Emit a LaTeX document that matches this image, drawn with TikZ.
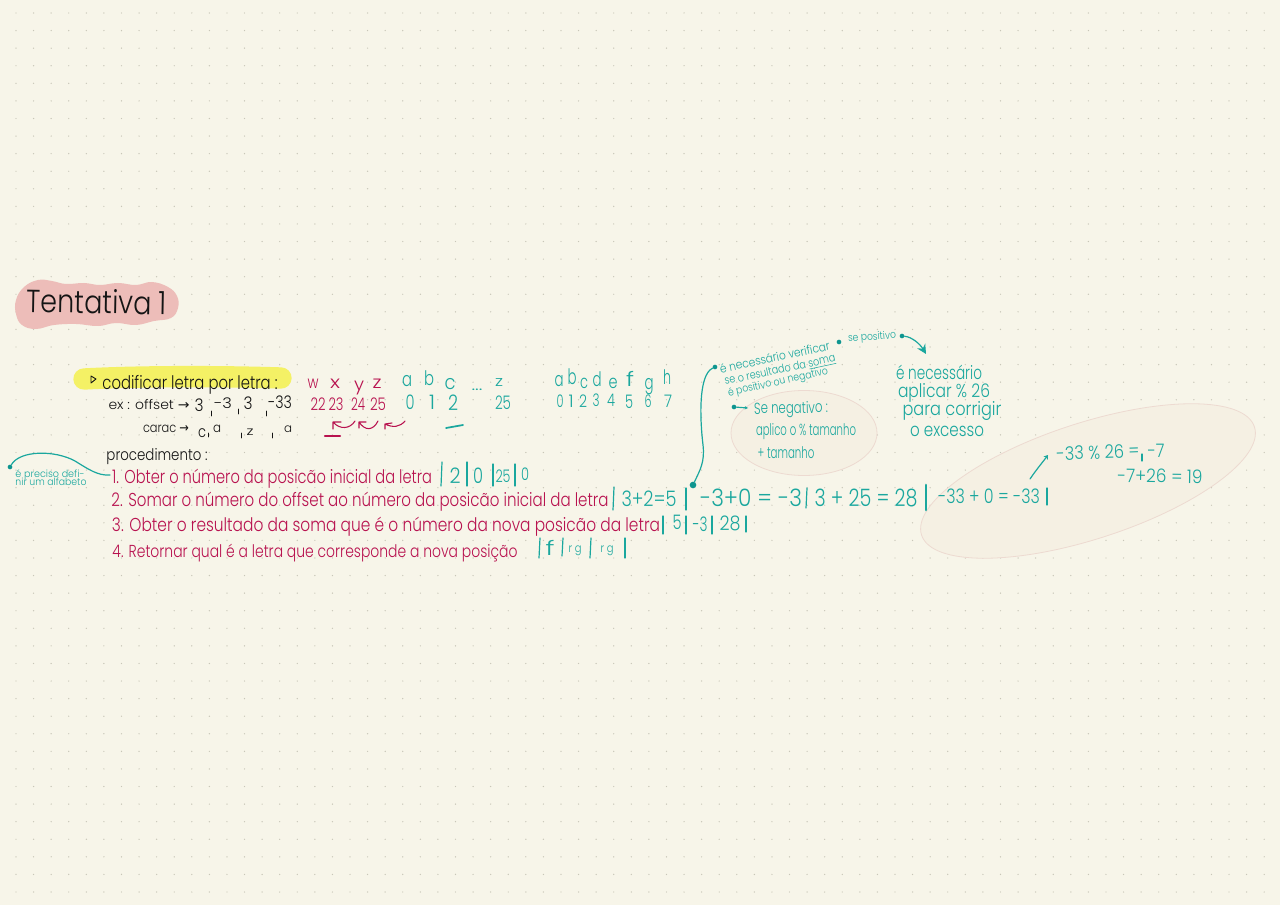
\documentclass[tikz,border=0pt]{standalone}
\usepackage{fontspec}
\usepackage{graphicx}
\setmainfont{Poppins}[UprightFont=* Light]
\newfontfamily\arrfont{DejaVu Sans}
\usetikzlibrary{arrows.meta}
\definecolor{paper}{HTML}{F7F5E9}
\definecolor{griddot}{HTML}{C8C6B8}
\definecolor{tealink}{HTML}{1AA79E}
\definecolor{tealdark}{HTML}{0E958F}
\definecolor{crimson}{HTML}{B8124F}
\definecolor{inkblack}{HTML}{141414}
\definecolor{marker}{HTML}{F4F165}
\definecolor{blobpink}{HTML}{EDBDB9}
\definecolor{bubblefill}{HTML}{F5F0E3}
\definecolor{bubbleline}{HTML}{EDDAD1}
\newlength\pxu
\setlength\pxu{0.75pt}
\tikzset{
  hand/.style={inner sep=0pt,outer sep=0pt,anchor=center,yshift=-1.5\pxu},
  tealbar/.style={draw=tealink,line width=0.9pt,line cap=round},
  inkbar/.style={draw=inkblack,line width=0.7pt,line cap=round},
  tealcurve/.style={draw=tealink,line width=0.9pt,line cap=round},
  crimsoncurve/.style={draw=crimson,line width=0.8pt,line cap=round,line join=round},
  enddot/.style={circle,fill=tealdark,inner sep=0pt,minimum size=4.2pt},
  bubble/.style={fill=bubblefill,draw=bubbleline,line width=0.6pt},
}
% [rotation]{name}{colour}{x}{y}{width px}{font pt}{text}
\newcommand{\hw}[8][0]{\node[hand,text=#3,rotate=#1] (#2) at (#4,#5) {\resizebox{#6\pxu}{\height}{\fontsize{#7}{#7}\selectfont\vphantom{dp}#8}};}
\begin{document}
\begin{tikzpicture}[x=0.75pt,y=-0.75pt]
\useasboundingbox (0,0) rectangle (1280,905);
\fill[paper] (0,0) rectangle (1280,905);
\foreach \i in {0,...,71}{\foreach \j in {0,...,50}{
  \fill[griddot] ({16+17.58*\i},{13+17.58*\j}) circle (0.7);}}

% bubbles (under everything)
\draw[bubble] (804,433) ellipse (73 and 42.5);
\draw[bubble,rotate around={18:(1088,481)}] (1088,481) ellipse (175 and 58);

% title
\fill[blobpink] plot[smooth cycle,tension=0.7] coordinates {(16,300)(24,287)(38,280)(52,281)(66,284)(84,283)(100,285)(118,283)(136,285)(152,282)(168,287)(177,296)(178,308)(171,318)(154,321)(136,325)(116,323)(98,326)(76,324)(54,325)(36,329)(22,325)(16,314)};
\hw[-1]{title}{inkblack}{97}{304}{140}{24}{Tentativa 1}

% highlighter
\draw[marker,line width=16pt,line cap=round] (84,379) .. controls (140,376) and (220,376) .. (281,378);
\draw[inkblack,line width=0.7pt,line join=round] (91,376) -- (96,379) -- (91,383) -- cycle;
\hw{h1}{inkblack}{190}{383}{175}{14}{codificar letra por letra :}

% example
\hw{ex1}{inkblack}{149}{405}{81}{10}{ex : offset {\arrfont→}}
\hw{o1}{inkblack}{199}{406}{9}{13}{3}
\hw{o2}{inkblack}{223}{403}{18}{11}{-3}
\hw{o3}{inkblack}{248}{404}{9}{13}{3}
\hw{o4}{inkblack}{280}{403}{24}{13}{-33}
\draw[inkbar] (211,411) -- (211,416);
\draw[inkbar] (238,409) -- (238,414);
\draw[inkbar] (266,411) -- (266,416);
\hw{ca1}{inkblack}{166}{428}{46}{10}{carac {\arrfont→}}
\hw{c1}{inkblack}{202}{432}{8}{12}{c}
\hw{c2}{inkblack}{217}{428}{8}{10}{a}
\hw{c3}{inkblack}{250}{431}{7}{9}{z}
\hw{c4}{inkblack}{288}{428}{8}{9}{a}
\draw[inkbar] (208,433) -- (208,437);
\draw[inkbar] (241,433) -- (241,438);
\draw[inkbar] (272,433) -- (272,438);
\hw{proc}{inkblack}{157}{455}{101}{12}{procedimento :}

% left note
\node[enddot,minimum size=3.5pt] (d1) at (10,467) {};
\coordinate (n1) at (110,475);
\draw[tealcurve] (d1) .. controls (20,450) and (55,450) .. (75,461) .. controls (88,469) and (98,476) .. (n1);
\hw{lnA}{tealink}{50}{473}{69}{7.5}{é preciso defi-}
\hw{lnB}{tealink}{51}{482}{71}{7.5}{nir um alfabeto}

% procedure
\hw{l1}{crimson}{272}{477}{320}{14}{1. Obter o número da posicão inicial da letra}
\hw{l2}{crimson}{360}{500}{497}{14}{2. Somar o número do offset ao número da posicão inicial da letra}
\hw{l3}{crimson}{386}{525}{548}{14}{3. Obter o resultado da soma que é o número da nova posicão da letra}
\hw{l4}{crimson}{315}{552}{405}{13}{4. Retornar qual é a letra que corresponde a nova posição}

% line 1 values
\draw[tealbar] (442,462) -- (441,486);
\hw{a1}{tealink}{455}{477}{11}{16}{2}
\draw[tealbar] (467,462) -- (467,486);
\hw{a2}{tealink}{478}{477}{10}{16}{0}
\draw[tealbar] (493,464) -- (493,486);
\hw{a3}{tealink}{503}{477}{15}{13}{25}
\draw[tealbar] (515,464) -- (515,486);
\hw{a4}{tealink}{525}{475}{8}{13}{0}

% line 2 values
\draw[tealbar] (614,487) -- (613,510);
\hw{b1}{tealink}{649}{500}{55}{16}{3+2=5}
\draw[tealbar] (686,488) -- (686,510);
\hw{b2}{tealink}{751}{499}{102}{18}{-3+0 = -3}
\draw[tealbar] (807,488) -- (806,508);
\hw{b3}{tealink}{866}{499}{103}{18}{3 + 25 = 28}
\draw[tealink,line width=2pt,line cap=round] (926,485) -- (926,510);
\hw{b4}{tealink}{989}{497}{102}{15}{-33 + 0 = -33}
\draw[tealbar] (1047,488) -- (1047,505);

% line 3 values
\draw[tealbar] (663,516) -- (663,534);
\hw{e1}{tealink}{677}{523}{9}{15}{5}
\draw[tealbar] (686,516) -- (686,534);
\hw{e2}{tealink}{700}{525}{15}{15}{-3}
\draw[tealbar] (712,516) -- (712,534);
\hw{e3}{tealink}{730}{524}{21}{15}{28}
\draw[tealbar] (746,516) -- (746,532);

% line 4 values
\draw[tealbar] (540,538) -- (539,558);
\hw{f1}{tealink}{550}{549}{9}{15}{f}
\draw[tealbar] (563,538) -- (562,556);
\hw{f2}{tealink}{575}{548}{13}{9}{r g}
\draw[tealbar] (591,538) -- (590,558);
\hw{f3}{tealink}{607}{548}{13}{9}{r g}
\draw[tealbar] (625,538) -- (625,558);

% alphabet crimson
\hw{w}{crimson}{313}{383}{11}{13}{w}
\hw{x}{crimson}{335}{383}{10}{13}{x}
\hw{y}{crimson}{359}{385}{10}{13}{y}
\hw{z}{crimson}{377}{383}{9}{13}{z}
\hw{n22}{crimson}{318}{405}{15}{13}{22}
\hw{n23}{crimson}{336}{405}{15}{13}{23}
\hw{n24}{crimson}{358}{405}{14}{13}{24}
\hw{n25}{crimson}{378}{405}{16}{13}{25}
\draw[crimsoncurve] (355,421) .. controls (350,429) and (340,430) .. (333,422) (333,429) -- (333,422) -- (341,422);
\draw[crimsoncurve] (378,421) .. controls (373,431) and (365,431) .. (359,422) (359,428) -- (359,422) -- (366,422);
\draw[crimsoncurve] (405,421) .. controls (400,427) and (393,428) .. (385,424) (385,429) -- (385,424) -- (392,423);
\draw[crimson,line width=1.6pt,line cap=round] (325,436) -- (340,436);

% alphabet teal
\hw{ta}{tealink}{407}{380}{10}{15}{a}
\hw{tb}{tealink}{429}{379}{10}{15}{b}
\hw{tc}{tealink}{450}{383}{11}{15}{c}
\hw{td}{tealink}{477}{385}{11}{12}{...}
\hw{tz}{tealink}{499}{381}{8}{11}{z}
\hw{t0}{tealink}{410}{403}{9}{15}{0}
\hw{t1}{tealink}{432}{403}{6}{15}{1}
\hw{t2}{tealink}{453}{404}{10}{16}{2}
\hw{t25}{tealink}{503}{403}{16}{14}{25}
\draw[tealink,line width=1.3pt,line cap=round] (446,428) -- (463,425);

% second alphabet
\hw{sa}{tealink}{559}{380}{9}{15}{a}
\hw{sb}{tealink}{572}{378}{9}{16}{b}
\hw{sc}{tealink}{584}{382}{8}{14}{c}
\hw{sd}{tealink}{597}{380}{9}{15}{d}
\hw{se}{tealink}{613}{382}{9}{14}{e}
\hw{sf}{tealink}{630}{380}{8}{15}{f}
\hw{sg}{tealink}{649}{383}{9}{15}{g}
\hw{sh}{tealink}{667}{378}{8}{15}{h}
\hw{s0}{tealink}{560}{402}{7}{13}{0}
\hw{s1}{tealink}{571}{402}{5}{13}{1}
\hw{s2}{tealink}{583}{402}{8}{13}{2}
\hw{s3}{tealink}{596}{401}{7}{13}{3}
\hw{s4}{tealink}{611}{401}{8}{13}{4}
\hw{s5}{tealink}{629}{402}{8}{14}{5}
\hw{s6}{tealink}{648}{402}{7}{13}{6}
\hw{s7}{tealink}{668}{402}{8}{13}{7}

% teal notes
\node[enddot,minimum size=5pt] (d2) at (693,485) {};
\node[enddot,minimum size=3.5pt] (d3) at (715,367) {};
\draw[tealcurve] (d2) .. controls (700,470) and (705,462) .. (703,445) .. controls (700,420) and (698,375) .. (d3);
\hw[12]{v1}{tealink}{775}{357}{112}{9}{é necessário verificar}
\hw[12]{v2}{tealink}{780}{369}{113}{8.5}{se o resultado da \underline{soma}}
\hw[12.5]{v3}{tealink}{778}{381}{102}{8}{é positivo ou negativo}
\node[enddot,minimum size=3.5pt] (d4) at (839,342) {};
\hw[4]{v4}{tealink}{872}{336}{48}{8}{se positivo}
\node[enddot,minimum size=3.5pt] (d5) at (902,336) {};
\coordinate (ar1) at (926,354);
\draw[tealcurve,-{Stealth[length=7pt,width=7pt]}] (d5) .. controls (912,337) and (920,344) .. (ar1);

\node[enddot,minimum size=3.5pt] (d6) at (734,407) {};
\coordinate (ar2) at (748,408);
\draw[tealcurve,-{Stealth[length=2.5pt,width=2.5pt]}] (d6) -- (ar2);
\hw[1]{n1a}{tealink}{791}{408}{74}{12}{Se negativo :}
\hw{n2a}{tealink}{806}{430}{100}{12}{aplico o \% tamanho}
\hw{n3a}{tealink}{786}{453}{57}{12}{+ tamanho}

\hw{p1}{tealink}{939}{373}{86}{14}{é necessário}
\hw{p2}{tealink}{944}{391}{92}{14}{aplicar \% 26}
\hw{p3}{tealink}{952}{409}{99}{14}{para corrigir}
\hw{p4}{tealink}{947}{430}{74}{14}{o excesso}

% calc in big bubble
\coordinate (c1s) at (1030,479);
\coordinate (c1e) at (1048,455);
\draw[tealcurve,-{Stealth[length=3pt,width=4pt]}] (c1s) .. controls (1036,470) and (1042,463) .. (c1e);
\hw[2]{g1}{tealink}{1098}{453}{83}{14}{-33 \% 26 =}
\draw[tealbar] (1142,454) -- (1142,461);
\hw{g2}{tealink}{1156}{451}{17}{14}{-7}
\hw[-1]{g3}{tealink}{1160}{477}{85}{14}{-7+26 = 19}
\end{tikzpicture}
\end{document}
